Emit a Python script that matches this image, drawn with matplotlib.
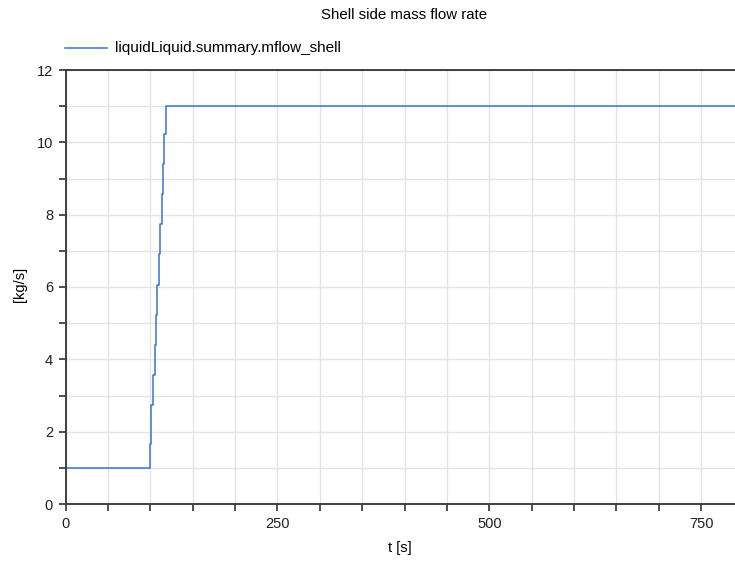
import matplotlib

matplotlib.use("Agg")
import matplotlib.pyplot as plt
from matplotlib.ticker import MultipleLocator

# Shell side mass flow (sampled step ramp around t = 100..120 s)
time_s = [0.0, 99.3, 101.3, 103.5, 105.2, 106.8, 108.4, 110.0, 111.7, 113.3,
          114.9, 116.5, 118.8, 790.0]
mflow_shell = [1.0, 1.66, 2.74, 3.57, 4.40, 5.23, 6.06, 6.90, 7.73, 8.56,
               9.39, 10.22, 11.0, 11.0]

series_label = "liquidLiquid.summary.mflow_shell"
title = "Shell side mass flow rate"
x_ticks = [0, 250, 500, 750]
y_ticks = [0, 2, 4, 6, 8, 10, 12]

plt.rcParams["font.family"] = ["Liberation Sans", "DejaVu Sans"]

W, H = 735, 562
ax_left, ax_bottom, ax_top = 65.6, 504, 70
ax_w, ax_h = W - ax_left, ax_bottom - ax_top
fig = plt.figure(figsize=(W / 100, H / 100), dpi=100)
ax = fig.add_axes([ax_left / W, (H - ax_bottom) / H, ax_w / W, ax_h / H])

line_color = "#3474d4"
ax.plot(time_s, mflow_shell, drawstyle="steps-post", color=line_color, lw=1.1)

ax.set_xlim(0, 790)
ax.set_ylim(0, 12)
ax.set_xticks(x_ticks)
ax.set_yticks(y_ticks)
ax.xaxis.set_minor_locator(MultipleLocator(50))
ax.yaxis.set_minor_locator(MultipleLocator(1))
ax.grid(True, which="both", color="#e4e4e4", lw=1.0)
ax.set_axisbelow(True)

ax.tick_params(which="both", direction="out", length=5, width=1.2,
               color="#303030", labelsize=10.5, labelcolor="#202020", pad=4)

for side in ("left", "bottom", "top"):
    ax.spines[side].set_color("#404040")
    ax.spines[side].set_linewidth(1.4)
ax.spines["right"].set_visible(False)

ax.set_xlabel("t [s]", fontsize=10.5, va="center")
ax.xaxis.set_label_coords((400 - ax_left) / ax_w, -(548 - ax_bottom) / ax_h)
ax.set_ylabel("[kg/s]", fontsize=10.5, va="center")
ax.yaxis.set_label_coords(-(ax_left - 20) / ax_w, (ax_bottom - 284) / ax_h)

fig.text(404 / W, 1 - 15 / H, title, ha="center", va="center", fontsize=10.8)

# Legend entry drawn above the axes
fig.lines.append(plt.Line2D([65 / W, 107 / W], [1 - 48 / H, 1 - 48 / H],
                            color=line_color, lw=1.1, transform=fig.transFigure))
fig.text(115 / W, 1 - 48 / H, series_label, ha="left", va="center", fontsize=11)

fig.savefig("out.png", dpi=100)
